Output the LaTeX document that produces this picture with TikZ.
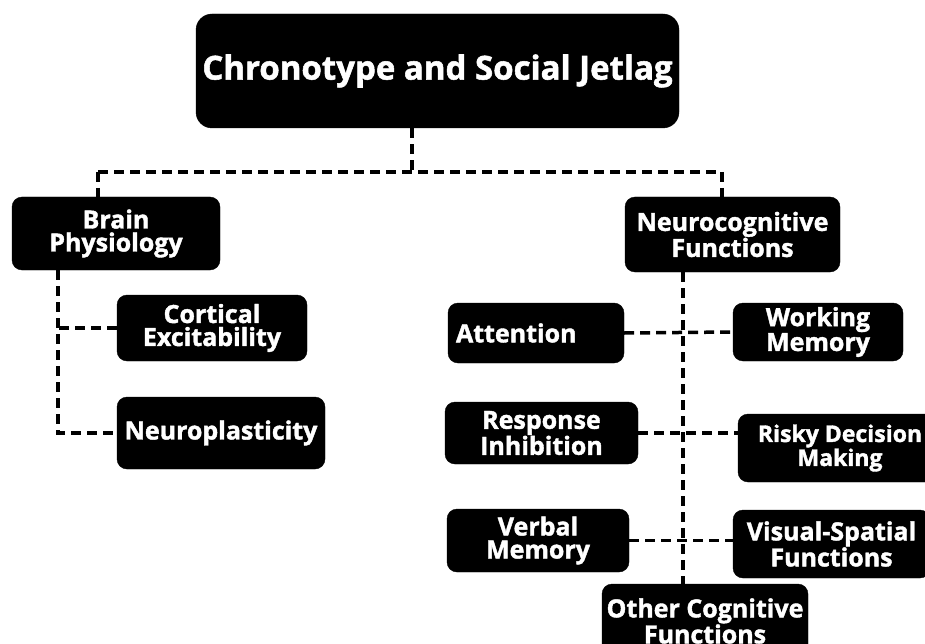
\documentclass[tikz,border=0pt]{standalone}
\usepackage{fontspec}
\setmainfont{Open Sans}[BoldFeatures={FakeBold=1.6}]
\begin{document}
\begin{tikzpicture}[x=1pt,y=-1pt,
  box/.style={fill=black, draw=black, text=white, rounded corners=10pt, align=center,
    font=\fontsize{25}{23}\selectfont\bfseries, inner sep=0pt},
  titlebox/.style={box, rounded corners=16pt, font=\fontsize{33}{36}\selectfont\bfseries},
  conn/.style={draw=black, line width=3.5pt, dash pattern=on 10pt off 6pt}]
\useasboundingbox (0,0) rectangle (925,644);
% nodes
\node[titlebox, minimum width=483, minimum height=114] (title) at (437.5,71) {\raisebox{5pt}{Chronotype and Social Jetlag}};
\node[box, minimum width=208, minimum height=73] (brain) at (116,233.5) {Brain\\Physiology};
\node[box, minimum width=215, minimum height=75] (neuro) at (732.5,234.5) {Neurocognitive\\Functions};
\node[box, minimum width=190, minimum height=66] (cortical) at (212,328) {Cortical\\Excitability};
\node[box, minimum width=208, minimum height=72] (plast) at (221,433) {Neuroplasticity};
\node[box, minimum width=176, minimum height=60, text width=160, align=left] (attention) at (536,333) {Attention};
\node[box, minimum width=170, minimum height=58] (working) at (818,332) {Working\\Memory};
\node[box, minimum width=193, minimum height=62] (response) at (541.5,433) {Response\\Inhibition};
\node[box, minimum width=204, minimum height=68, font=\fontsize{23}{22}\selectfont\bfseries] (risky) at (840,448) {Risky Decision\\Making};
\node[box, minimum width=182, minimum height=63] (verbal) at (538,540.5) {Verbal\\Memory};
\node[box, minimum width=197, minimum height=68] (visual) at (831.5,544) {Visual-Spatial\\Functions};
\node[box, minimum width=206, minimum height=74] (other) at (705,621) {Other Cognitive\\Functions};
% helper coordinates
\coordinate (hub) at (412,172);
\coordinate (bl) at (98,172);
\coordinate (br) at (722,172);
\coordinate (btrunk) at (58,433);
\coordinate (ntrunk) at (683,300);
% connectors
\draw[conn] (title.south -| hub) -- (hub);
\draw[conn] (bl) -- (br);
\draw[conn] (bl) -- (bl |- brain.north);
\draw[conn] (br) -- (br |- neuro.north);
\draw[conn] (btrunk |- brain.south) -- (btrunk) -- (plast.west);
\draw[conn] (cortical.west) -- (cortical.west -| btrunk);
\draw[conn] (ntrunk |- neuro.south) -- (ntrunk |- other.north);
\draw[conn] (attention.east) -- (working.west);
\draw[conn] (response.east) -- (risky.west |- response.east);
\draw[conn] (verbal.east) -- (visual.west |- verbal.east);
\end{tikzpicture}
\end{document}
